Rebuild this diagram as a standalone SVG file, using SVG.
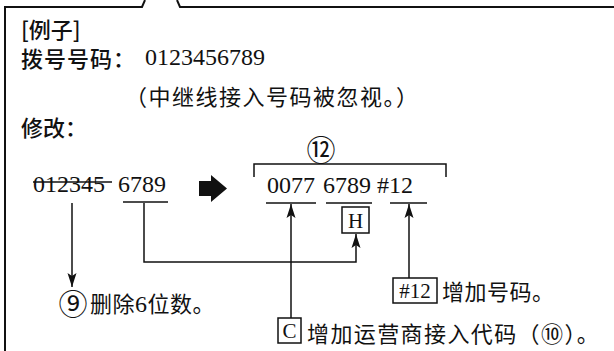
<svg xmlns="http://www.w3.org/2000/svg" width="614" height="351" viewBox="0 0 614 351">
<style>
.frame{fill:none;stroke:#111;stroke-width:2}
.ln{fill:none;stroke:#111;stroke-width:1.5}
.box{fill:#fff;stroke:#111;stroke-width:1.5}
.hd{font-family:"Noto Sans CJK SC",sans-serif;font-size:22px;font-weight:500;fill:#111}
.cj{font-family:"Noto Sans CJK SC",sans-serif;font-size:22px;fill:#111}
.num{font-family:"Liberation Serif",serif;font-size:24px;fill:#111}
.sm{font-family:"Liberation Serif",serif;font-size:21px;fill:#111}
.circ{font-family:"Noto Sans CJK SC",sans-serif;font-size:29px;fill:#111}
</style>
<defs>
<marker id="ah" markerUnits="userSpaceOnUse" markerWidth="14" markerHeight="10" viewBox="0 0 14 10" refX="14" refY="5" orient="auto">
<path d="M14,5 L0,0.5 L3,5 L0,9.5 z" fill="#111"/>
</marker>
</defs>
<rect width="614" height="351" fill="#fff"/>
<path class="frame" d="M5,351 V7 H142 L145,0 M177,0 L180,7 H614"/>

<g id="example">
<text class="hd" x="21" y="38">[例子]</text>
<text class="hd" x="21" y="67" letter-spacing="1">拨号号码：</text>
<text class="num" x="145" y="65">0123456789</text>
<text class="cj" x="125" y="105" letter-spacing="1.5">（中继线接入号码被忽视。）</text>
<text class="hd" x="21" y="136">修改：</text>
</g>

<g id="original">
<text class="num" x="33" y="192">012345</text>
<line class="ln" x1="33" y1="182" x2="112" y2="182"/>
<text class="num" x="118" y="192">6789</text>
<line class="ln" x1="123" y1="202" x2="168" y2="202"/>
</g>

<g id="bigarrow">
<polygon points="199,181 211,181 211,175 227,188.5 211,202 211,196 199,196" fill="#111"/>
</g>

<g id="result">
<path class="ln" d="M254,177 V164 H446 V177"/>
<text class="circ" x="321" y="161" text-anchor="middle">⑫</text>
<text class="num" x="267" y="193">0077</text>
<text class="num" x="323" y="193">6789</text>
<text class="num" x="377" y="193">#12</text>
<line class="ln" x1="266" y1="203" x2="316" y2="203"/>
<line class="ln" x1="326" y1="203" x2="372" y2="203"/>
<line class="ln" x1="390" y1="203" x2="427" y2="203"/>
</g>

<g id="connectors">
<line class="ln" x1="72" y1="203" x2="72" y2="287" marker-end="url(#ah)"/>
<polyline class="ln" points="144,203 144,262 356,262 356,234" marker-end="url(#ah)"/>
<line class="ln" x1="291" y1="318" x2="291" y2="204" marker-end="url(#ah)"/>
<line class="ln" x1="409" y1="278" x2="409" y2="204" marker-end="url(#ah)"/>
</g>

<g id="node-H">
<rect class="box" x="342" y="207" width="27" height="26"/>
<text class="sm" x="355.5" y="228" text-anchor="middle">H</text>
</g>

<g id="node-delete">
<text class="circ" x="73" y="315" text-anchor="middle">⑨</text>
<text class="cj" x="90" y="312" letter-spacing="0.5">删除<tspan class="num" font-size="22">6</tspan>位数。</text>
</g>

<g id="node-add12">
<rect class="box" x="393" y="278" width="44" height="25"/>
<text class="sm" x="415" y="298" text-anchor="middle">#12</text>
<text class="cj" x="442" y="300" letter-spacing="0.5">增加号码。</text>
</g>

<g id="node-C">
<rect class="box" x="278" y="318" width="23" height="25"/>
<text class="sm" x="289.5" y="338" text-anchor="middle">C</text>
<text class="cj" x="307" y="342" letter-spacing="1.4">增加运营商接入代码（⑩）。</text>
</g>
</svg>
